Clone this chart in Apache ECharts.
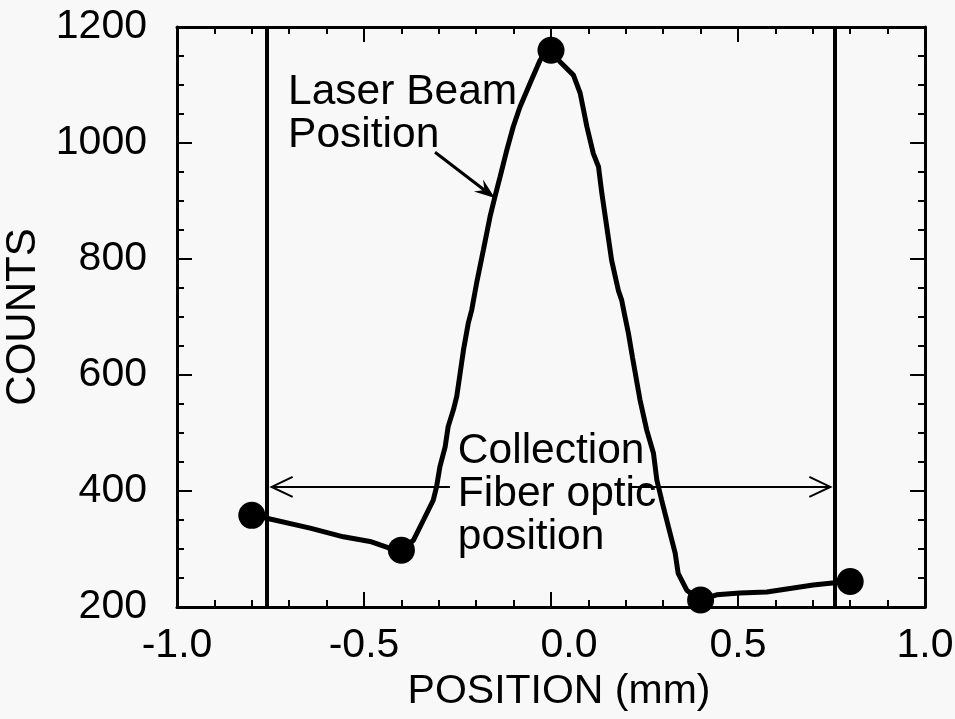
<!DOCTYPE html>
<html>
<head>
<meta charset="utf-8">
<script src="https://cdn.jsdelivr.net/npm/echarts@6/dist/echarts.min.js"></script>
<style>
  html, body { margin: 0; padding: 0; background: #f8f8f8; }
  #chart { width: 955px; height: 719px; }
</style>
</head>
<body>
<div id="chart"></div>
<script>
// measured points (big dots)
const dotX = [-0.8, -0.4, 0.0, 0.4, 0.8]
const dotY = [358, 298, 1160, 212, 244]

// continuous scan trace
const profileX = [
  -0.8, -0.76, -0.644, -0.555, -0.484, -0.43, -0.4, -0.368, -0.341, -0.315,
  -0.306, -0.297, -0.283, -0.275, -0.261, -0.252, -0.243, -0.234, -0.221, -0.212,
  -0.199, -0.181, -0.163, -0.15, -0.136, -0.118, -0.101, -0.083, -0.056, -0.029,
  -0.011, 0.0, 0.024, 0.06, 0.078, 0.096, 0.113, 0.127, 0.136, 0.149,
  0.162, 0.18, 0.189, 0.198, 0.207, 0.218, 0.238, 0.256, 0.274, 0.283,
  0.296, 0.314, 0.332, 0.34, 0.363, 0.398, 0.443, 0.505, 0.577, 0.639,
  0.701, 0.746, 0.798
]
const profileY = [
  358, 353, 336, 321, 313, 301, 298, 315, 350, 384,
  407, 442, 476, 511, 540, 563, 603, 643, 690, 712,
  758, 815, 873, 907, 942, 988, 1028, 1062, 1103, 1143,
  1160, 1160, 1140, 1117, 1086, 1028, 982, 959, 913, 856,
  798, 746, 729, 700, 672, 630, 557, 505, 465, 419,
  384, 338, 293, 258, 229, 212, 221, 224, 226, 232,
  238, 241, 244
]

// annotations (data coordinates)
const fiberEdges = [-0.755, 0.755]     // collection fiber optic limits
const spanY = 407                       // height of the double arrow
const spanGap = [-0.27, 0.212]          // arrow broken where the label sits
const laserArrow = [[-0.31, 984], [-0.15, 905]]
const laserTextAt = [-0.703, 1125]
const fiberTextAt = [-0.249, 505]

const FONT = 'Liberation Sans'
const black = '#000'

const axisLine = { show: true, onZero: false, lineStyle: { color: black, width: 3 } }
const tick = { show: true, inside: true, length: 15, lineStyle: { color: black, width: 2 } }
const xMinor = { show: true, splitNumber: 5, length: 7, lineStyle: { color: black, width: 2 } }
const yMinor = { show: true, splitNumber: 4, length: 7, lineStyle: { color: black, width: 2 } }

const chart = echarts.init(document.getElementById('chart'))

chart.setOption({
  backgroundColor: '#f8f8f8',
  animation: false,
  grid: { left: 177, right: 30, top: 27, bottom: 112, containLabel: false, outerBoundsMode: 'none' },
  xAxis: [
    {
      type: 'value', min: -1, max: 1, interval: 0.5, position: 'bottom',
      axisLine, axisTick: tick, minorTick: xMinor,
      splitLine: { show: false },
      axisLabel: {
        margin: 18, fontSize: 41, fontFamily: FONT, color: black,
        formatter: (v) => (v === 0 ? '{z|0.0}' : v.toFixed(1)),
        rich: { z: { fontSize: 41, fontFamily: FONT, color: black, padding: [0, 0, 0, 36] } }
      },
      name: 'POSITION (mm)', nameLocation: 'middle', nameGap: 63,
      nameTextStyle: { fontSize: 41, fontFamily: FONT, color: black, padding: [0, 0, 0, 16] }
    },
    {
      type: 'value', min: -1, max: 1, interval: 0.5, position: 'top',
      axisLine, axisTick: tick, minorTick: xMinor,
      splitLine: { show: false }, axisLabel: { show: false }
    }
  ],
  yAxis: [
    {
      type: 'value', min: 200, max: 1200, interval: 200, position: 'left',
      axisLine, axisTick: tick, minorTick: yMinor,
      splitLine: { show: false },
      axisLabel: { margin: 30, fontSize: 41, fontFamily: FONT, color: black, formatter: (v) => String(v) },
      name: 'COUNTS', nameLocation: 'middle', nameGap: 125, nameRotate: 90,
      nameTextStyle: { fontSize: 42, fontFamily: FONT, color: black }
    },
    {
      type: 'value', min: 200, max: 1200, interval: 200, position: 'right',
      axisLine, axisTick: tick, minorTick: yMinor,
      splitLine: { show: false }, axisLabel: { show: false }
    }
  ],
  series: [
    {
      name: 'profile',
      type: 'line',
      data: profileX.map((x, i) => [x, profileY[i]]),
      showSymbol: false,
      lineStyle: { color: black, width: 5 },
      z: 3,
      markLine: {
        silent: true,
        symbol: ['none', 'none'],
        label: { show: false },
        lineStyle: { color: black, width: 4, type: 'solid' },
        data: fiberEdges.map((x) => ({ xAxis: x }))
      }
    },
    {
      name: 'points',
      type: 'scatter',
      data: dotX.map((x, i) => [x, dotY[i]]),
      symbolSize: 27,
      itemStyle: { color: black, opacity: 1 },
      z: 4
    }
  ]
})

// annotation graphics, positioned through the axes
const px = (p) => chart.convertToPixel({ xAxisIndex: 0, yAxisIndex: 0 }, p)

const L0 = px([fiberEdges[0], spanY])
const L1 = px([spanGap[0], spanY])
const R0 = px([spanGap[1], spanY])
const R1 = px([fiberEdges[1], spanY])
const tipL = [L0[0] + 3, L0[1]]
const tipR = [R1[0] - 3, R1[1]]

const a0 = px(laserArrow[0])
const a1 = px(laserArrow[1])
const ang = Math.atan2(a1[1] - a0[1], a1[0] - a0[0])
const head = (len, spread) => [
  a1,
  [a1[0] - len * Math.cos(ang - spread), a1[1] - len * Math.sin(ang - spread)],
  [a1[0] - len * 0.6 * Math.cos(ang), a1[1] - len * 0.6 * Math.sin(ang)],
  [a1[0] - len * Math.cos(ang + spread), a1[1] - len * Math.sin(ang + spread)]
]

const lt = px(laserTextAt)
const ft = px(fiberTextAt)
const textStyle = { font: '42.5px "Liberation Sans"', fill: black, lineHeight: 43, verticalAlign: 'top' }

chart.setOption({
  graphic: [
    { type: 'line', shape: { x1: tipL[0], y1: tipL[1], x2: L1[0], y2: L1[1] }, style: { stroke: black, lineWidth: 2 } },
    { type: 'line', shape: { x1: R0[0], y1: R0[1], x2: tipR[0], y2: tipR[1] }, style: { stroke: black, lineWidth: 2 } },
    { type: 'polyline', shape: { points: [[tipL[0] + 21, tipL[1] - 10], tipL, [tipL[0] + 21, tipL[1] + 10]] }, style: { stroke: black, lineWidth: 2, fill: null } },
    { type: 'polyline', shape: { points: [[tipR[0] - 21, tipR[1] - 10], tipR, [tipR[0] - 21, tipR[1] + 10]] }, style: { stroke: black, lineWidth: 2, fill: null } },
    { type: 'line', shape: { x1: a0[0], y1: a0[1], x2: a1[0] - 8 * Math.cos(ang), y2: a1[1] - 8 * Math.sin(ang) }, style: { stroke: black, lineWidth: 3 } },
    { type: 'polygon', shape: { points: head(22, 0.35) }, style: { fill: black } },
    { type: 'text', x: lt[0], y: lt[1], style: Object.assign({ text: 'Laser Beam\nPosition' }, textStyle), z: 10 },
    { type: 'text', x: ft[0], y: ft[1], style: Object.assign({ text: 'Collection\nFiber optic\nposition' }, textStyle), z: 10 }
  ]
})
</script>
</body>
</html>
